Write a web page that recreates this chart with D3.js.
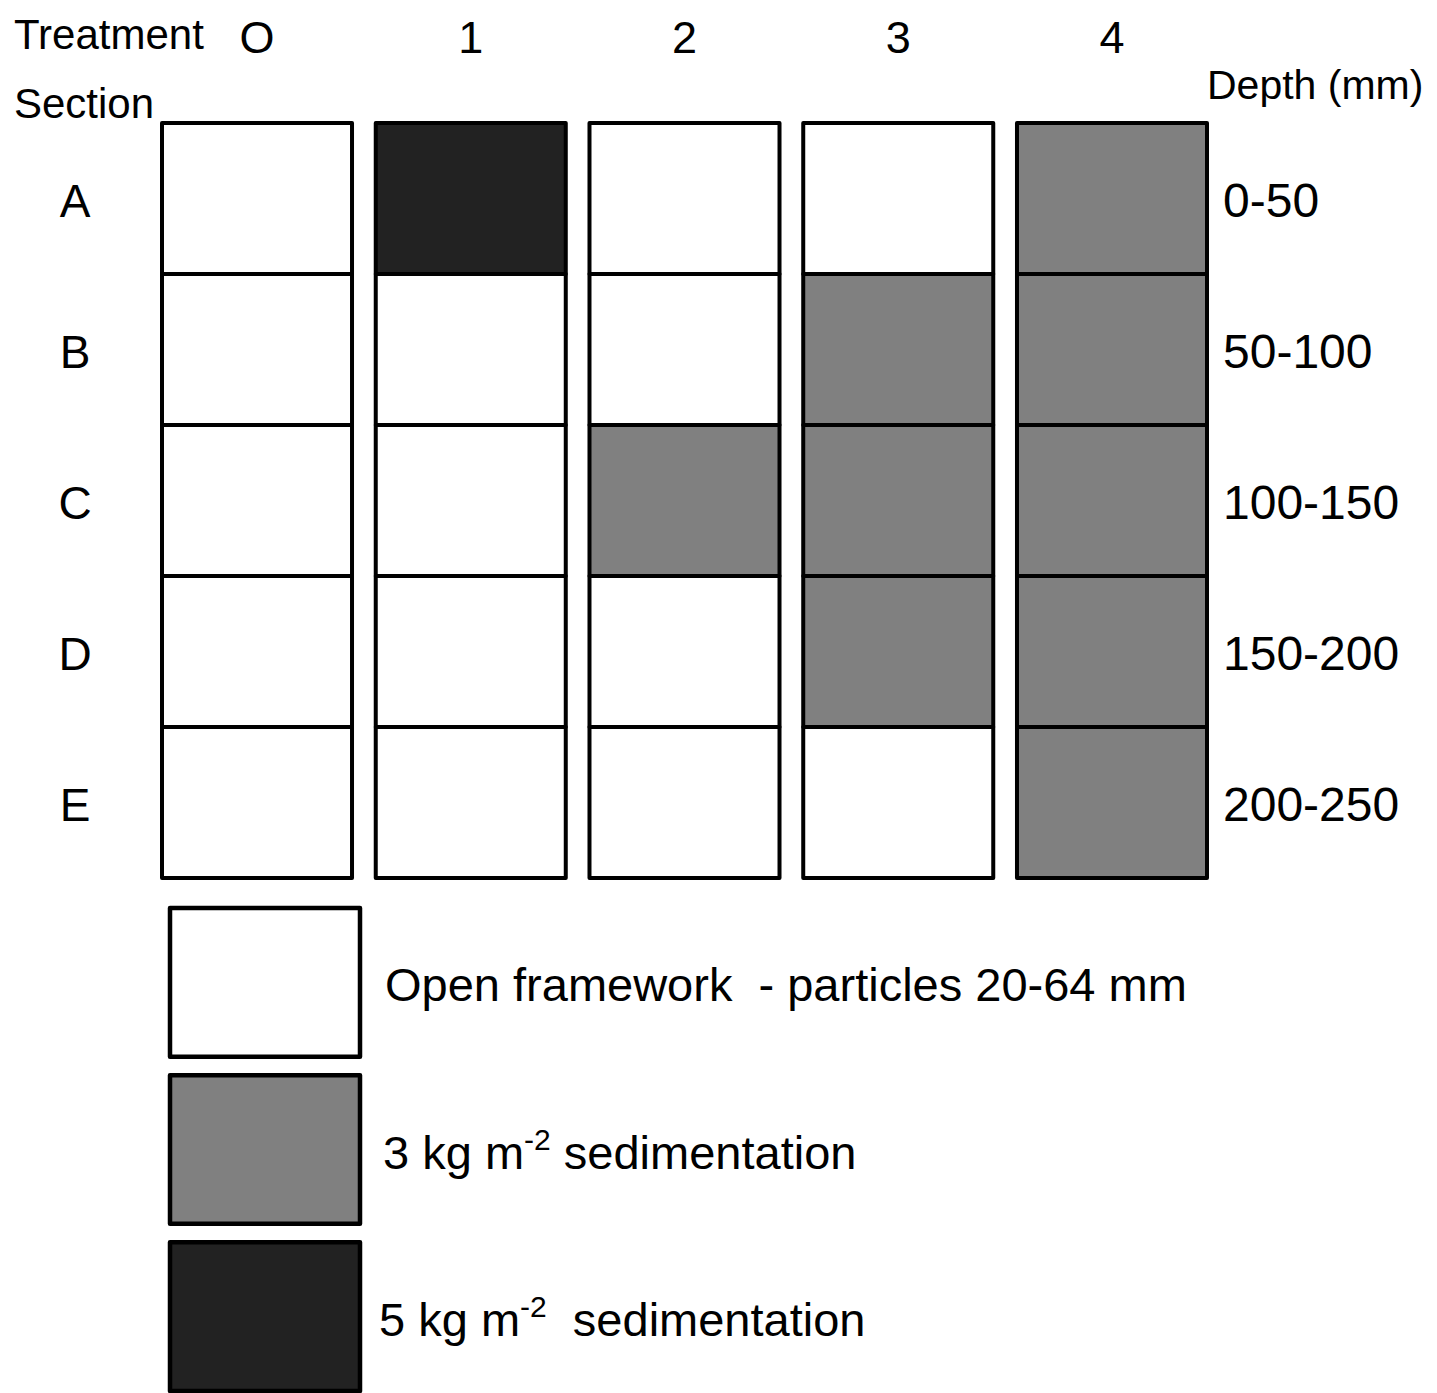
<!DOCTYPE html>
<html>
<head>
<meta charset="utf-8">
<script src="https://cdnjs.cloudflare.com/ajax/libs/d3/7.8.5/d3.min.js"></script>
<style>
  body { margin: 0; background: #fff; }
  svg { display: block; }
  text { font-family: "Liberation Sans", Arial, sans-serif; fill: #000; white-space: pre; }
</style>
</head>
<body>
<div id="chart"></div>
<script>
// treatments across the top, sections down the side
const treatments = ['O', '1', '2', '3', '4'];
const sections = ['A', 'B', 'C', 'D', 'E'];
const depths = ['0-50', '50-100', '100-150', '150-200', '200-250'];

// fill class per treatment, one entry per section (A..E)
// 0 = open framework, 1 = 3 kg m-2, 2 = 5 kg m-2
const fillT0 = [0, 0, 0, 0, 0];
const fillT1 = [2, 0, 0, 0, 0];
const fillT2 = [0, 0, 1, 0, 0];
const fillT3 = [0, 1, 1, 1, 0];
const fillT4 = [1, 1, 1, 1, 1];
const fills = [fillT0, fillT1, fillT2, fillT3, fillT4];

const legendLabels = [
  ['Open framework  - particles 20-64 mm'],
  ['3 kg m', '-2', ' sedimentation'],
  ['5 kg m', '-2', '  sedimentation']
];
const colours = ['#ffffff', '#808080', '#222222'];

const W = 1437, H = 1393;
const svg = d3.select('#chart').append('svg').attr('width', W).attr('height', H);

const x = d3.scaleBand().domain(treatments).range([162, 1207]).paddingInner(0.111).paddingOuter(0);
const y = d3.scaleBand().domain(sections).range([123, 878]).padding(0);
const colour = d3.scaleOrdinal().domain([0, 1, 2]).range(colours);

// cells
const cells = [];
treatments.forEach((t, i) => sections.forEach((s, j) => cells.push({ t, s, v: fills[i][j] })));

svg.append('g').selectAll('rect')
  .data(cells).join('rect')
  .attr('x', d => x(d.t))
  .attr('y', d => y(d.s))
  .attr('width', x.bandwidth())
  .attr('height', y.bandwidth())
  .attr('fill', d => colour(d.v))
  .attr('stroke', '#000')
  .attr('stroke-width', 4)
  .attr('stroke-linejoin', 'round');

// headers
svg.append('text').attr('x', 14).attr('y', 49).style('font-size', '42px').text('Treatment');
svg.append('text').attr('x', 14).attr('y', 118).style('font-size', '42px').text('Section');
svg.append('text').attr('x', 1207).attr('y', 99).style('font-size', '41px').text('Depth (mm)');

svg.append('g').selectAll('text')
  .data(treatments).join('text')
  .attr('x', d => x(d) + x.bandwidth() / 2)
  .attr('y', 53)
  .attr('text-anchor', 'middle')
  .style('font-size', '45px')
  .text(d => d);

svg.append('g').selectAll('text')
  .data(sections).join('text')
  .attr('x', 75)
  .attr('y', d => y(d) + y.bandwidth() / 2 + 18)
  .attr('text-anchor', 'middle')
  .style('font-size', '46px')
  .text(d => d);

svg.append('g').selectAll('text')
  .data(depths).join('text')
  .attr('x', 1223)
  .attr('y', (d, i) => y(sections[i]) + y.bandwidth() / 2 + 18)
  .style('font-size', '48px')
  .text(d => d);

// legend
const ly = d3.scaleBand().domain([0, 1, 2]).range([908, 1391]).paddingInner(0.11);
const lg = svg.append('g');
lg.selectAll('rect')
  .data([0, 1, 2]).join('rect')
  .attr('x', 170)
  .attr('y', d => ly(d))
  .attr('width', 190)
  .attr('height', ly.bandwidth())
  .attr('fill', d => colour(d))
  .attr('stroke', '#000')
  .attr('stroke-width', 4.5)
  .attr('stroke-linejoin', 'round');

const lt = lg.selectAll('text')
  .data(legendLabels).join('text')
  .attr('x', (d, i) => [385, 383, 379][i])
  .attr('y', (d, i) => ly(i) + ly.bandwidth() / 2 + 19)
  .style('font-size', '47px');
lt.each(function (parts) {
  const el = d3.select(this);
  parts.forEach((p, k) => {
    const sp = el.append('tspan').text(p);
    if (k === 1) sp.attr('dy', -19).style('font-size', '30px');
    if (k === 2) sp.attr('dy', 19);
  });
});
</script>
</body>
</html>
